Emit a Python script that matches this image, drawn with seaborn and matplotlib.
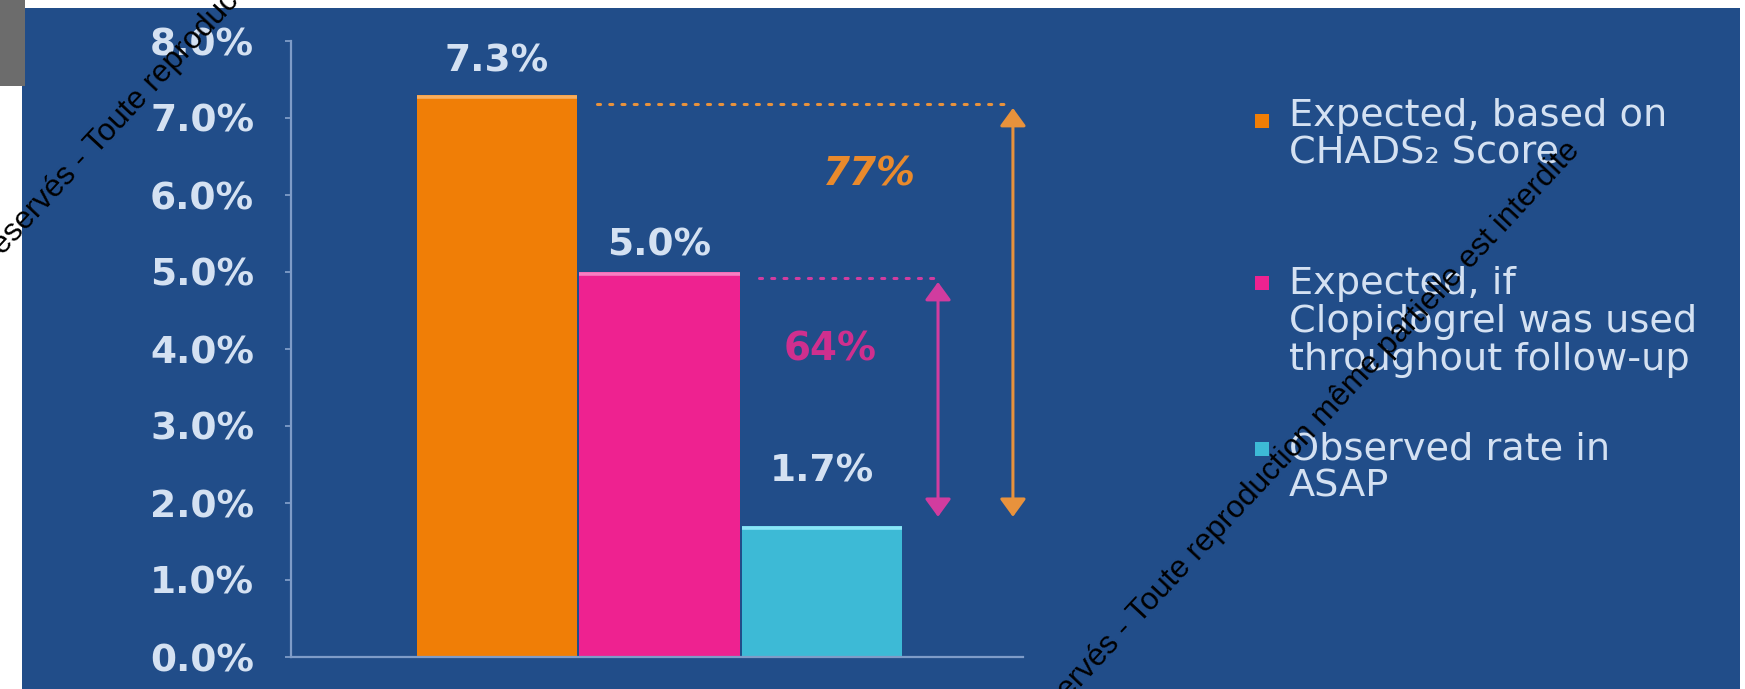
import matplotlib
matplotlib.use("Agg")
import matplotlib.pyplot as plt
from matplotlib.patches import Rectangle
import pandas as pd
import seaborn as sns

# ---- data ---------------------------------------------------------------
categories = [
    "Expected, based on\nCHADS\u2082 Score",
    "Expected, if\nClopidogrel was used\nthroughout follow-up",
    "Observed rate in\nASAP",
]
stroke_rates = [7.3, 5.0, 1.7]
reductions = ["77%", "64%"]
y_ticks = [0, 1, 2, 3, 4, 5, 6, 7, 8]
watermark_head = "Tous droits réservés - "
watermark_tail = "Toute reproduction même partielle est interdite"

# ---- style --------------------------------------------------------------
bar_colors = ["#f07e06", "#ee2290", "#3dbad6"]
top_edge_colors = ["#f9ae5e", "#f77fc2", "#8ae6f7"]
guide_colors = ["#e8923c", "#d13c9f"]
reduction_colors = ["#e98a2c", "#cf2f8e"]
BG = "#214d89"
TXT = "#d4e1f2"
SPINE = "#7f9cc8"

W, H, DPI = 1745, 689, 100

sns.set_theme(style="white")
plt.rcParams["font.family"] = ["DejaVu Sans"]

fig = plt.figure(figsize=(W / DPI, H / DPI), dpi=DPI, facecolor="white")


def fx(px):
    return px / W


def fy(py):
    return 1 - py / H


# slide panel and the grey tab in the corner
fig.add_artist(Rectangle((fx(22), 0), fx(1740) - fx(22), fy(8),
                         transform=fig.transFigure, facecolor=BG,
                         edgecolor="none", zorder=-10))
fig.add_artist(Rectangle((0, fy(86)), fx(25), 1 - fy(86),
                         transform=fig.transFigure, facecolor="#6c6c6c",
                         edgecolor="none", zorder=-9))

ax = fig.add_axes([fx(291), fy(657), fx(1023) - fx(291), fy(41) - fy(657)])
ax.set_facecolor("none")

df = pd.DataFrame({"group": categories, "rate": stroke_rates})
sns.barplot(data=df, x="group", y="rate", hue="group", palette=bar_colors,
            width=0.985, saturation=1, dodge=False, legend=False, ax=ax,
            linewidth=0, zorder=2)

ax.set_xlim(-1.268, 3.237)
ax.set_ylim(0, 8)
ax.set_xticks([])
ax.set_xlabel("")
ax.set_ylabel("")

for side in ("top", "right"):
    ax.spines[side].set_visible(False)
for side in ("left", "bottom"):
    ax.spines[side].set_color(SPINE)
    ax.spines[side].set_linewidth(1.6)

ax.set_yticks(y_ticks)
ax.set_yticklabels([f"{v:.1f}%" for v in y_ticks], fontweight="bold")
ax.tick_params(axis="y", direction="out", length=4.5, width=1.3,
               color=SPINE, pad=22, labelsize=27, labelcolor=TXT, left=True)

bars = list(ax.patches)

# lighter rim along the top of every bar
for patch, col in zip(bars, top_edge_colors):
    x0, w, h = patch.get_x(), patch.get_width(), patch.get_height()
    ax.plot([x0, x0 + w], [h - 0.03, h - 0.03], color=col, lw=2.6,
            solid_capstyle="butt", zorder=3)

# value labels above bars
label_lift = [24, 19, 39]
for patch, v, lift in zip(bars, stroke_rates, label_lift):
    ax.annotate(f"{v:.1f}%", xy=(patch.get_x() + patch.get_width() / 2, v),
                xytext=(0, lift), textcoords="offset points",
                ha="center", va="center", fontsize=27, fontweight="bold",
                color=TXT, zorder=4)

# dotted guides and double arrows down to the observed rate
arrow_x = [3.175, 2.714]
arrow_top_gap = [0.17, 0.13]
observed = stroke_rates[2]
for i in range(2):
    patch = bars[i]
    v = stroke_rates[i]
    start = patch.get_x() + patch.get_width() + 0.12
    ax.plot([start, arrow_x[i] - 0.02], [v - arrow_top_gap[i] + 0.05] * 2,
            color=guide_colors[i], lw=2.2, linestyle=(0, (1, 3)),
            dash_capstyle="round", zorder=3)
    ax.annotate("", xy=(arrow_x[i], observed + 0.12),
                xytext=(arrow_x[i], v - arrow_top_gap[i]),
                arrowprops=dict(arrowstyle="<|-|>,head_length=0.55,head_width=0.4",
                                color=guide_colors[i], lw=2.2,
                                mutation_scale=20, shrinkA=0, shrinkB=0),
                zorder=3)

# relative reduction labels
reduction_pos = [(2.295, 6.26), (2.05, 3.99)]
reduction_style = ["italic", "normal"]
for txt, (px_, py_), col, st in zip(reductions, reduction_pos,
                                    reduction_colors, reduction_style):
    ax.text(px_, py_, txt, ha="center", va="center", fontsize=28,
            fontweight="bold", fontstyle=st, color=col, zorder=4)

# legend: swatch plus wrapped label for each bar
legend_swatch_y = [121, 283, 449]
legend_text_top = [98, 266, 431]
for name, col, sy, ty in zip(categories, bar_colors, legend_swatch_y,
                             legend_text_top):
    fig.add_artist(Rectangle((fx(1255), fy(sy + 7)), fx(14), 14 / H,
                             transform=fig.transFigure, facecolor=col,
                             edgecolor="none", zorder=5))
    fig.text(fx(1289), fy(ty), name, ha="left", va="top", fontsize=27.5,
             color=TXT, linespacing=1.07, zorder=5)

# diagonal copyright stamp
wm_font = dict(family=["Liberation Sans", "DejaVu Sans"], fontsize=22.6,
               color="black", rotation=47, rotation_mode="anchor",
               va="baseline", zorder=20)
for (px_, py_) in [(97, 155), (1140, 624)]:
    fig.text(fx(px_), fy(py_), watermark_head, ha="right", **wm_font)
    fig.text(fx(px_), fy(py_), watermark_tail, ha="left", **wm_font)

fig.savefig("out.png", dpi=DPI, facecolor="white")
